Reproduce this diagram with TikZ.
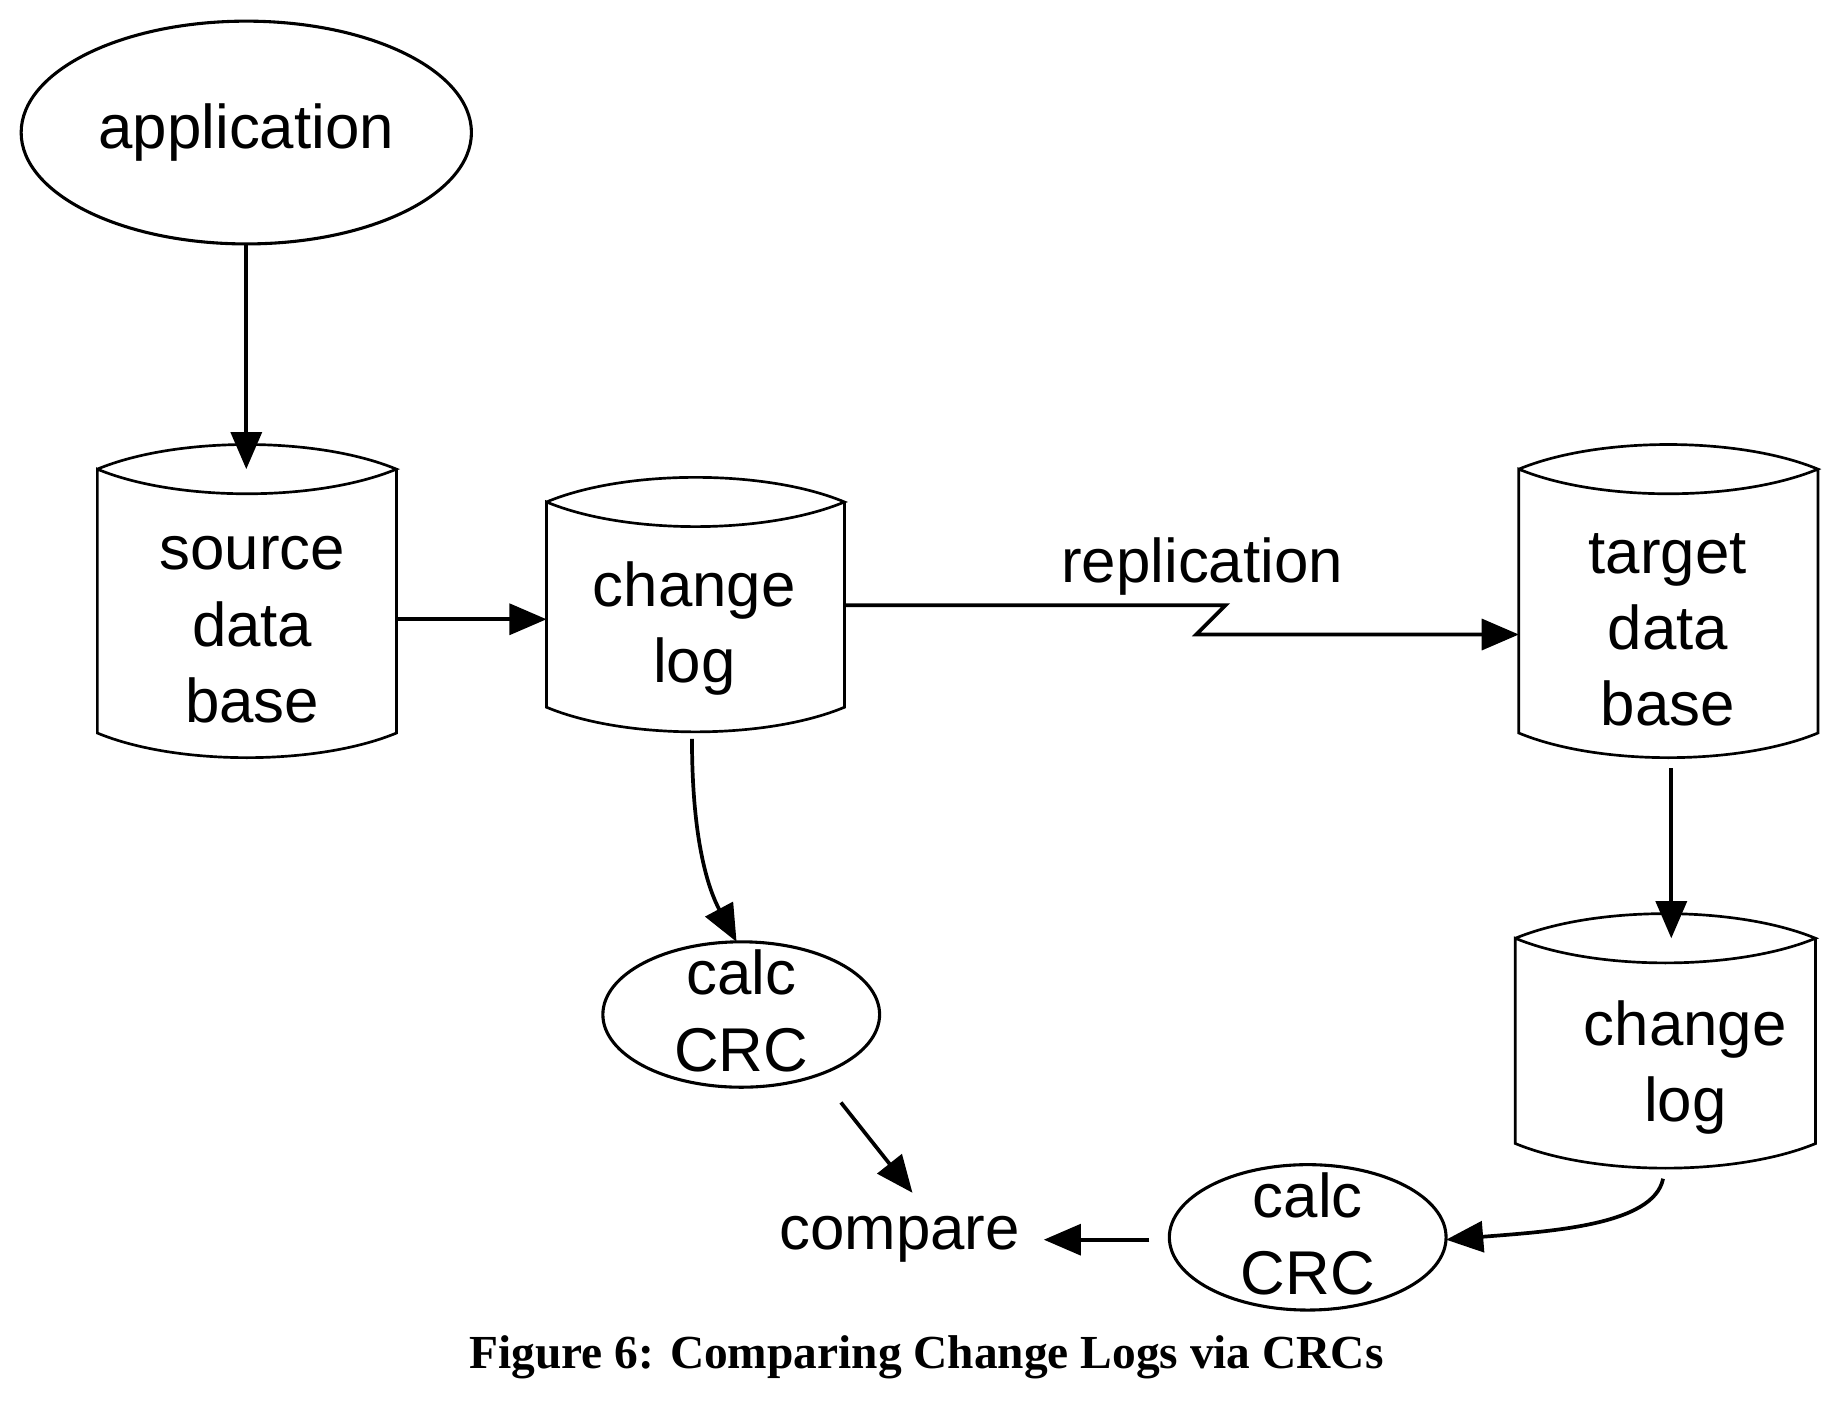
\documentclass[tikz,border=0pt]{standalone}
\usepackage{fontspec}
\setmainfont{Liberation Sans}
\newfontfamily\capfont{Liberation Serif}
\usetikzlibrary{arrows.meta,shapes.geometric}
\begin{document}
\begin{tikzpicture}[x=0.02cm,y=-0.02cm,
  lbl/.style={font=\fontsize{30}{37}\selectfont,align=center,inner sep=0pt},
  cyl/.style={line width=1.3pt},
  ell/.style={draw,ellipse,line width=1.5pt,inner sep=0pt},
  arr/.style={line width=1.8pt,-{Triangle[length=18pt,width=15pt]}}]
\useasboundingbox (0,0) rectangle (1568,1194);
\newcommand{\mycyl}[5]{% name, x1, x2, ytop, ybot
  \pgfmathsetmacro{\xm}{(#2+#3)/2}
  \draw[cyl] (#2,#4) .. controls (\xm-60,#4-28) and (\xm+60,#4-28) .. (#3,#4)
    .. controls (\xm+60,#4+28) and (\xm-60,#4+28) .. (#2,#4) -- (#2,#5)
    .. controls (\xm-60,#5+28) and (\xm+60,#5+28) .. (#3,#5) -- (#3,#4);
  \coordinate (#1-n) at (\xm,#4);
  \coordinate (#1-s) at (\xm,#5+21);
}
\mycyl{src}{83}{338}{400}{625}
\mycyl{cl}{466}{720}{428}{603}
\mycyl{tgt}{1295}{1550}{400}{625}
\mycyl{clt}{1292}{1548}{800}{975}

\node[ell,minimum width=7.68cm,minimum height=3.8cm] (app) at (210,113) {};
\node[lbl] at (210,113) {application};
\node[ell,minimum width=4.72cm,minimum height=2.48cm] (crc1) at (632,865) {};
\node[lbl] (crc1t) at (632,862) {calc\\CRC};
\node[ell,minimum width=4.72cm,minimum height=2.48cm] (crc2) at (1115,1055) {};
\node[lbl] (crc2t) at (1115,1052) {calc\\CRC};

\node[lbl] (srct) at (215,537) {source\\data\\base};
\node[lbl] (clt1) at (592,536) {change\\log};
\node[lbl] (tgtt) at (1422,537) {target\\data\\base};
\node[lbl] (clt2) at (1437,910) {change\\log};
\node[lbl] (cmp) at (767,1057) {compare};
\node[lbl] (rep) at (1025,483) {replication};
\node[font=\capfont\bfseries\fontsize{23}{26}\selectfont,inner sep=0pt] (cap) at (790,1157) {Figure 6: Comparing Change Logs via CRCs};

\coordinate (a1) at (210,400);
\draw[arr] (app.south) -- (a1);
\draw[arr] (338,528) -- (466,528);
\coordinate (z1) at (1045,516);
\coordinate (z2) at (1020,541);
\coordinate (tgtin) at (1295,541);
\draw[arr,line join=miter] (720,516) -- (z1) -- (z2) -- (tgtin);
\coordinate (c1) at (628,803);
\draw[arr] (590,630) .. controls (590,720) and (605,760) .. (c1);
\coordinate (t1) at (1425,800);
\draw[arr] (1425,655) -- (t1);
\coordinate (c2) at (1233,1057);
\draw[arr] (1418,1005) .. controls (1410,1045) and (1320,1050) .. (c2);
\coordinate (m1) at (980,1057);
\coordinate (m2) at (890,1057);
\draw[arr] (m1) -- (m2);
\coordinate (d1) at (717,940);
\coordinate (d2) at (778,1017);
\draw[arr] (d1) -- (d2);
\end{tikzpicture}
\end{document}
